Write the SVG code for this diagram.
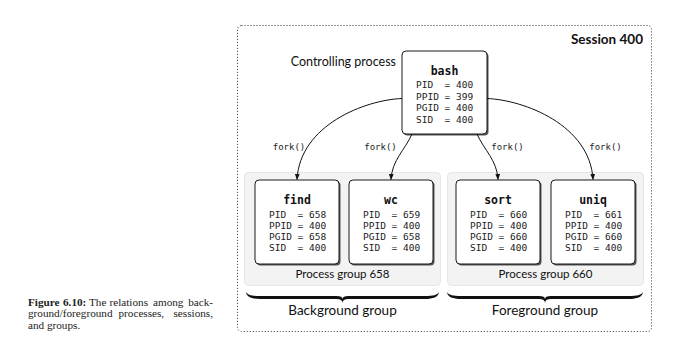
<svg xmlns="http://www.w3.org/2000/svg" width="674" height="345" viewBox="0 0 674 345">
  <defs>
    <style>
      .session { fill: none; stroke: #333; stroke-width: 1; stroke-dasharray: 1 2; }
      .group { fill: #f3f3f3; stroke: #e6e6e6; stroke-width: 1; }
      .shadow { fill: #555; }
      .box { fill: #fff; stroke: #1a1a1a; stroke-width: 1; }
      .title { font-family: "DejaVu Sans Mono", "Liberation Mono", monospace; font-weight: bold; font-size: 11.5px; fill: #111; text-anchor: middle; }
      .attr { font-family: "DejaVu Sans Mono", "Liberation Mono", monospace; font-size: 9.5px; fill: #222; white-space: pre; }
      .label { font-family: Lato, "Liberation Sans", sans-serif; fill: #111; }
      .fork { font-family: "DejaVu Sans Mono", "Liberation Mono", monospace; font-size: 9px; fill: #222; text-anchor: middle; }
      .edge { fill: none; stroke: #111; stroke-width: 1; }
      .brace { fill: #111; }
      .cap { font-family: "Liberation Serif", "DejaVu Serif", serif; font-size: 11.2px; fill: #222; }
    </style>
    <marker id="arrow" viewBox="0 0 6 6" refX="5.5" refY="3" markerWidth="6" markerHeight="6" orient="auto" markerUnits="userSpaceOnUse">
      <path d="M0,0.6 L6,3 L0,5.4 Z" fill="#111"/>
    </marker>
  </defs>

  <!-- session frame -->
  <g id="session">
    <rect class="session" x="237.5" y="25.5" width="414" height="306" rx="4"/>
    <text class="label" x="643" y="44" font-size="13.5" font-weight="bold" text-anchor="end">Session 400</text>
  </g>

  <!-- process groups -->
  <g id="group-658">
    <rect class="group" x="244.5" y="172.5" width="196" height="113" rx="4"/>
    <text class="label" x="342.5" y="278" font-size="11.5" text-anchor="middle">Process group 658</text>
  </g>
  <g id="group-660">
    <rect class="group" x="447.5" y="172.5" width="196" height="113" rx="4"/>
    <text class="label" x="545.5" y="278" font-size="11.5" text-anchor="middle">Process group 660</text>
  </g>

  <!-- braces under the groups -->
  <g id="background-group">
    <path class="brace" d="M246,292 C246.5,297 252,299 260,299 L336.5,299 C340.5,299 342.5,300.5 342.5,303 C342.5,300.5 344.5,299 348.5,299 L425,299 C433,299 438.5,297 439,292 C437.5,295 433,296 425,296 L348.5,296 C344.5,296 342.5,297 342.5,299 C342.5,297 340.5,296 336.5,296 L260,296 C252,296 247.5,295 246,292 Z"/>
    <text class="label" x="342.5" y="315" font-size="13.5" text-anchor="middle">Background group</text>
  </g>
  <g id="foreground-group">
    <path class="brace" d="M447,292 C447.5,297 453,299 461,299 L539,299 C543,299 545,300.5 545,303 C545,300.5 547,299 551,299 L629,299 C637,299 642.5,297 643,292 C641.5,295 637,296 629,296 L551,296 C547,296 545,297 545,299 C545,297 543,296 539,296 L461,296 C453,296 448.5,295 447,292 Z"/>
    <text class="label" x="545" y="315" font-size="13.5" text-anchor="middle">Foreground group</text>
  </g>

  <!-- controlling process -->
  <g id="bash">
    <text class="label" x="396" y="66" font-size="12.5" text-anchor="end">Controlling process</text>
    <rect class="shadow" x="403.5" y="52.5" width="85" height="83" rx="4"/>
    <rect class="box" x="402" y="51" width="85" height="83" rx="4"/>
    <text class="title" x="444.5" y="75">bash</text>
    <text class="attr" x="416" y="88">PID  = 400</text>
    <text class="attr" x="416" y="99.5">PPID = 399</text>
    <text class="attr" x="416" y="111">PGID = 400</text>
    <text class="attr" x="416" y="122.5">SID  = 400</text>
  </g>

  <g id="find">
    <rect class="shadow" x="256.5" y="181.5" width="84" height="84" rx="4"/>
    <rect class="box" x="255" y="180" width="84" height="84" rx="4"/>
    <text class="title" x="297" y="204">find</text>
    <text class="attr" x="269" y="217.5">PID  = 658</text>
    <text class="attr" x="269" y="228.5">PPID = 400</text>
    <text class="attr" x="269" y="240">PGID = 658</text>
    <text class="attr" x="269" y="251">SID  = 400</text>
  </g>

  <g id="wc">
    <rect class="shadow" x="350.5" y="181.5" width="84" height="84" rx="4"/>
    <rect class="box" x="349" y="180" width="84" height="84" rx="4"/>
    <text class="title" x="391" y="204">wc</text>
    <text class="attr" x="363" y="217.5">PID  = 659</text>
    <text class="attr" x="363" y="228.5">PPID = 400</text>
    <text class="attr" x="363" y="240">PGID = 658</text>
    <text class="attr" x="363" y="251">SID  = 400</text>
  </g>

  <g id="sort">
    <rect class="shadow" x="457.5" y="181.5" width="84" height="84" rx="4"/>
    <rect class="box" x="456" y="180" width="84" height="84" rx="4"/>
    <text class="title" x="498" y="204">sort</text>
    <text class="attr" x="470" y="217.5">PID  = 660</text>
    <text class="attr" x="470" y="228.5">PPID = 400</text>
    <text class="attr" x="470" y="240">PGID = 660</text>
    <text class="attr" x="470" y="251">SID  = 400</text>
  </g>

  <g id="uniq">
    <rect class="shadow" x="552.5" y="181.5" width="84" height="84" rx="4"/>
    <rect class="box" x="551" y="180" width="84" height="84" rx="4"/>
    <text class="title" x="593" y="204">uniq</text>
    <text class="attr" x="565" y="217.5">PID  = 661</text>
    <text class="attr" x="565" y="228.5">PPID = 400</text>
    <text class="attr" x="565" y="240">PGID = 660</text>
    <text class="attr" x="565" y="251">SID  = 400</text>
  </g>

  <!-- fork() connectors -->
  <g id="connectors">
    <path class="edge" marker-end="url(#arrow)" d="M402,98.5 C365,100 300,125 297,179.5"/>
    <path class="edge" marker-end="url(#arrow)" d="M412,134 C405,150 392,160 391,179.5"/>
    <path class="edge" marker-end="url(#arrow)" d="M477,134 C484,150 497,160 498,179.5"/>
    <path class="edge" marker-end="url(#arrow)" d="M487,98.5 C524,100 590,125 593,179.5"/>
    <text class="fork" x="289" y="150">fork()</text>
    <text class="fork" x="380.5" y="150">fork()</text>
    <text class="fork" x="507.5" y="150">fork()</text>
    <text class="fork" x="605.5" y="150">fork()</text>
  </g>

  <!-- caption, justified word by word -->
  <g id="caption">
    <text class="cap" y="305.5"><tspan x="28" font-weight="bold">Figure</tspan><tspan x="63" font-weight="bold">6.10:</tspan><tspan x="89">The</tspan><tspan x="109.5">relations</tspan><tspan x="153">among</tspan><tspan x="213" text-anchor="end">back-</tspan></text>
    <text class="cap" y="317"><tspan x="28">ground/foreground</tspan><tspan x="118.5">processes,</tspan><tspan x="213" text-anchor="end">sessions,</tspan></text>
    <text class="cap" x="28" y="328.5">and groups.</text>
  </g>
</svg>
